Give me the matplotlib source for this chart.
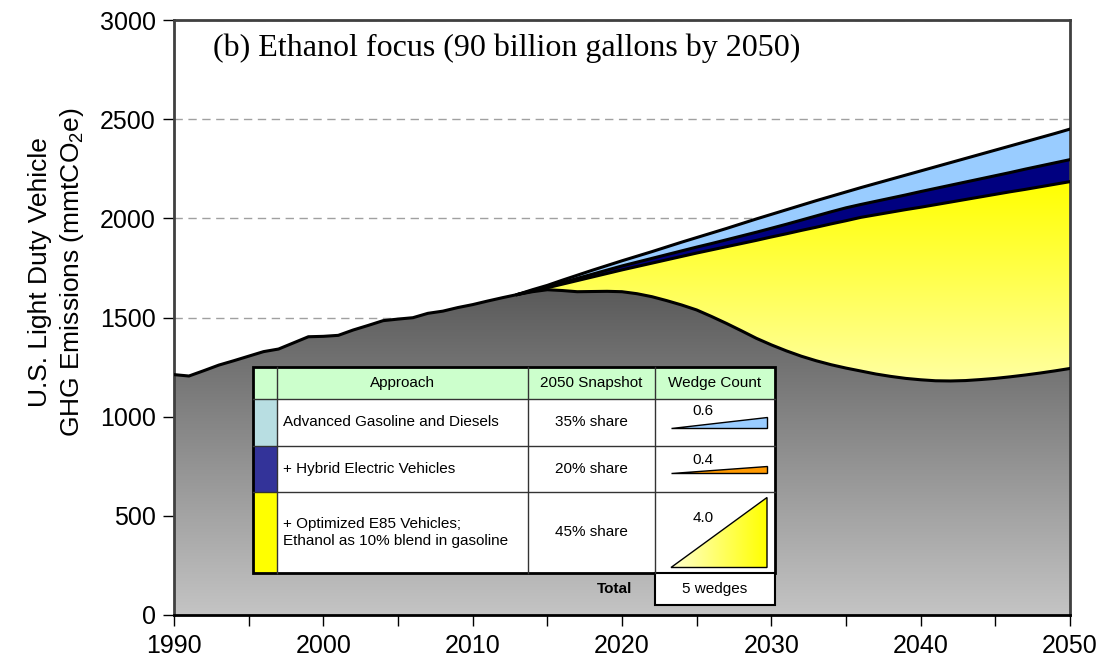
import matplotlib.pyplot as plt
import numpy as np
from matplotlib.colors import LinearSegmentedColormap
from matplotlib.patches import Rectangle, Polygon

plt.rcParams['font.family'] = ['Liberation Sans', 'DejaVu Sans']
plt.rcParams['mathtext.fontset'] = 'custom'
plt.rcParams['mathtext.rm'] = 'Liberation Sans'
plt.rcParams['mathtext.it'] = 'Liberation Sans:italic'

# historical emissions 1990-2012
hist_years = np.arange(1990, 2013)
hist = [1212, 1205, 1232, 1260, 1282, 1305, 1328, 1341, 1372, 1403, 1405, 1410,
        1437, 1460, 1484, 1492, 1499, 1521, 1532, 1550, 1565, 1583, 1600]

# projections 2013-2050
proj_years = np.arange(2013, 2051)
bau = [1616, 1640, 1662, 1688, 1713, 1738, 1762, 1786, 1809, 1832, 1856, 1880,
       1903, 1926, 1949, 1973, 1997, 2020, 2043, 2066, 2089, 2111, 2133, 2155,
       2176, 2197, 2218, 2239, 2260, 2281, 2302, 2323, 2344, 2365, 2386, 2407,
       2428, 2450]
after_adv = [1616, 1636, 1655, 1676, 1697, 1718, 1739, 1760, 1779, 1798, 1817, 1836,
             1855, 1873, 1892, 1911, 1930, 1950, 1970, 1991, 2012, 2033, 2053, 2070,
             2086, 2102, 2118, 2135, 2151, 2167, 2183, 2199, 2215, 2231, 2248, 2264,
             2280, 2296]
after_hev = [1616, 1633, 1650, 1668, 1686, 1704, 1722, 1740, 1757, 1774, 1791, 1808,
             1825, 1841, 1857, 1873, 1889, 1906, 1922, 1939, 1955, 1972, 1988, 2005,
             2018, 2031, 2044, 2056, 2069, 2082, 2095, 2108, 2121, 2134, 2146, 2159,
             2172, 2185]
after_e85 = [1616, 1630, 1640, 1636, 1630, 1631, 1632, 1630, 1620, 1605, 1585, 1563,
             1538, 1505, 1470, 1433, 1395, 1362, 1332, 1305, 1282, 1262, 1245, 1230,
             1215, 1203, 1193, 1186, 1181, 1180, 1182, 1187, 1193, 1201, 1210, 1220,
             1231, 1243]

# table contents
approaches = ['Advanced Gasoline and Diesels', '+ Hybrid Electric Vehicles',
              '+ Optimized E85 Vehicles;\nEthanol as 10% blend in gasoline']
snapshots = ['35% share', '20% share', '45% share']
wedge_counts = [0.6, 0.4, 4.0]
swatch_colors = ['#b8dee2', '#333399', '#ffff00']
icon_colors = ['#99ccff', '#ff9900', None]
total_label = '5 wedges'

years = np.concatenate([hist_years, proj_years])
ethanol_case = np.concatenate([hist, after_e85])

fig = plt.figure(figsize=(11.04, 6.64), dpi=100)
ax = fig.add_axes([174 / 1104, 1 - 615 / 664, 896 / 1104, 595 / 664])

grad = np.linspace(0, 1, 256).reshape(-1, 1)

# gray remaining emissions with vertical gradient
gray_poly = ax.fill_between(years, 0, ethanol_case, color='none', lw=0)
gray_cmap = LinearSegmentedColormap.from_list('gr', ['#c4c4c4', '#5a5a5a'])
im = ax.imshow(grad, cmap=gray_cmap, origin='lower', aspect='auto',
               extent=[1990, 2050, 0, max(ethanol_case)], zorder=1)
im.set_clip_path(gray_poly.get_paths()[0], transform=ax.transData)

# yellow E85 wedge with gradient
yel_poly = ax.fill_between(proj_years, after_e85, after_hev, color='none', lw=0)
yel_cmap = LinearSegmentedColormap.from_list('yl', ['#ffffa0', '#ffff00'])
im2 = ax.imshow(grad, cmap=yel_cmap, origin='lower', aspect='auto',
                extent=[2013, 2050, min(after_e85), max(after_hev)], zorder=1)
im2.set_clip_path(yel_poly.get_paths()[0], transform=ax.transData)

ax.fill_between(proj_years, after_hev, after_adv, color='#000080', lw=0, zorder=2)
ax.fill_between(proj_years, after_adv, bau, color='#99ccff', lw=0, zorder=2)

for line, xs in [(ethanol_case, years), (after_hev, proj_years),
                 (after_adv, proj_years), (bau, proj_years)]:
    ax.plot(xs, line, color='black', lw=2.2, zorder=3, solid_joinstyle='round')

ax.set_xlim(1990, 2050)
ax.set_ylim(0, 3000)
ax.set_xticks(np.arange(1990, 2051, 10))
ax.set_xticks(np.arange(1995, 2050, 10), minor=True)
ax.set_yticks(np.arange(0, 3001, 500))
ax.tick_params(axis='both', which='both', direction='out', labelsize=18, width=1)
ax.tick_params(axis='x', which='both', length=8, pad=6)
ax.tick_params(axis='y', length=8, pad=5)

ax.set_axisbelow(True)
ax.yaxis.grid(True, color='#a0a0a0', lw=1, ls=(0, (6, 4)))
for s in ['top', 'right', 'left']:
    ax.spines[s].set_color('#404040')
    ax.spines[s].set_linewidth(2)
ax.spines['bottom'].set_color('black')
ax.spines['bottom'].set_linewidth(2)

ax.text(0.0435, 0.953, '(b) Ethanol focus (90 billion gallons by 2050)',
        transform=ax.transAxes, ha='left', va='center', fontsize=23,
        family=['Liberation Serif', 'DejaVu Serif'])

fig.text(57 / 1104, 1 - 272 / 664,
         'U.S. Light Duty Vehicle\nGHG Emissions (mmtCO$_2$e)',
         rotation=90, ha='center', va='center', fontsize=19, linespacing=1.25,
         multialignment='center')

# table overlay in pixel coordinates
tax = fig.add_axes([0, 0, 1, 1], zorder=5)
tax.set_xlim(0, 1104)
tax.set_ylim(664, 0)
tax.axis('off')
tax.patch.set_visible(False)

cols = [253, 277, 528, 655, 775]
rows = [367, 399, 446, 492, 573]

tax.add_patch(Rectangle((cols[0], rows[0]), cols[-1] - cols[0], rows[1] - rows[0],
                        facecolor='#ccffcc', edgecolor='none'))
for i in range(3):
    tax.add_patch(Rectangle((cols[1], rows[i + 1]), cols[-1] - cols[1],
                            rows[i + 2] - rows[i + 1], facecolor='white', edgecolor='none'))
    tax.add_patch(Rectangle((cols[0], rows[i + 1]), cols[1] - cols[0],
                            rows[i + 2] - rows[i + 1], facecolor=swatch_colors[i],
                            edgecolor='none'))
for x in cols[1:-1]:
    tax.plot([x, x], [rows[0], rows[-1]], color='#333333', lw=1)
for y in rows[1:-1]:
    tax.plot([cols[0], cols[-1]], [y, y], color='#333333', lw=1)
tax.add_patch(Rectangle((cols[0], rows[0]), cols[-1] - cols[0], rows[-1] - rows[0],
                        facecolor='none', edgecolor='black', lw=2))
tax.add_patch(Rectangle((cols[3], rows[-1]), cols[4] - cols[3], 32,
                        facecolor='white', edgecolor='black', lw=1.5))

fs = 11
hy = (rows[0] + rows[1]) / 2
tax.text((cols[1] + cols[2]) / 2, hy, 'Approach', ha='center', va='center', fontsize=fs)
tax.text((cols[2] + cols[3]) / 2, hy, '2050 Snapshot', ha='center', va='center', fontsize=fs)
tax.text((cols[3] + cols[4]) / 2, hy, 'Wedge Count', ha='center', va='center', fontsize=fs)

px_per_wedge = 17.5
for i in range(3):
    cy = (rows[i + 1] + rows[i + 2]) / 2
    tax.text(cols[1] + 6, cy, approaches[i], ha='left', va='center', fontsize=fs,
             linespacing=1.3)
    tax.text((cols[2] + cols[3]) / 2, cy, snapshots[i], ha='center', va='center', fontsize=fs)
    h = wedge_counts[i] * px_per_wedge
    bottom = cy + h / 2
    x0, x1 = cols[3] + 16, cols[4] - 8
    pts = [[x0, bottom], [x1, bottom], [x1, bottom - h]]
    if icon_colors[i] is None:
        clip = Polygon(pts, closed=True, facecolor='none', edgecolor='none')
        tax.add_patch(clip)
        g = tax.imshow(np.linspace(0, 1, 256).reshape(1, -1),
                       cmap=LinearSegmentedColormap.from_list('t', ['#ffffd0', '#ffff00']),
                       aspect='auto', extent=[x0, x1, bottom, bottom - h], zorder=2)
        g.set_clip_path(clip)
    tax.add_patch(Polygon(pts, closed=True, facecolor=icon_colors[i] or 'none',
                          edgecolor='black', lw=1, zorder=3))
    ly = max(bottom - h - 6, cy - 15)
    tax.text(cols[3] + 48, ly, f'{wedge_counts[i]:.1f}', ha='center', va='center', fontsize=fs)

tax.text(632, rows[-1] + 16, 'Total', ha='right', va='center', fontsize=fs, fontweight='bold')
tax.text((cols[3] + cols[4]) / 2, rows[-1] + 16, total_label, ha='center', va='center',
         fontsize=fs)
tax.set_xlim(0, 1104)
tax.set_ylim(664, 0)

fig.savefig('out.png', dpi=100)
